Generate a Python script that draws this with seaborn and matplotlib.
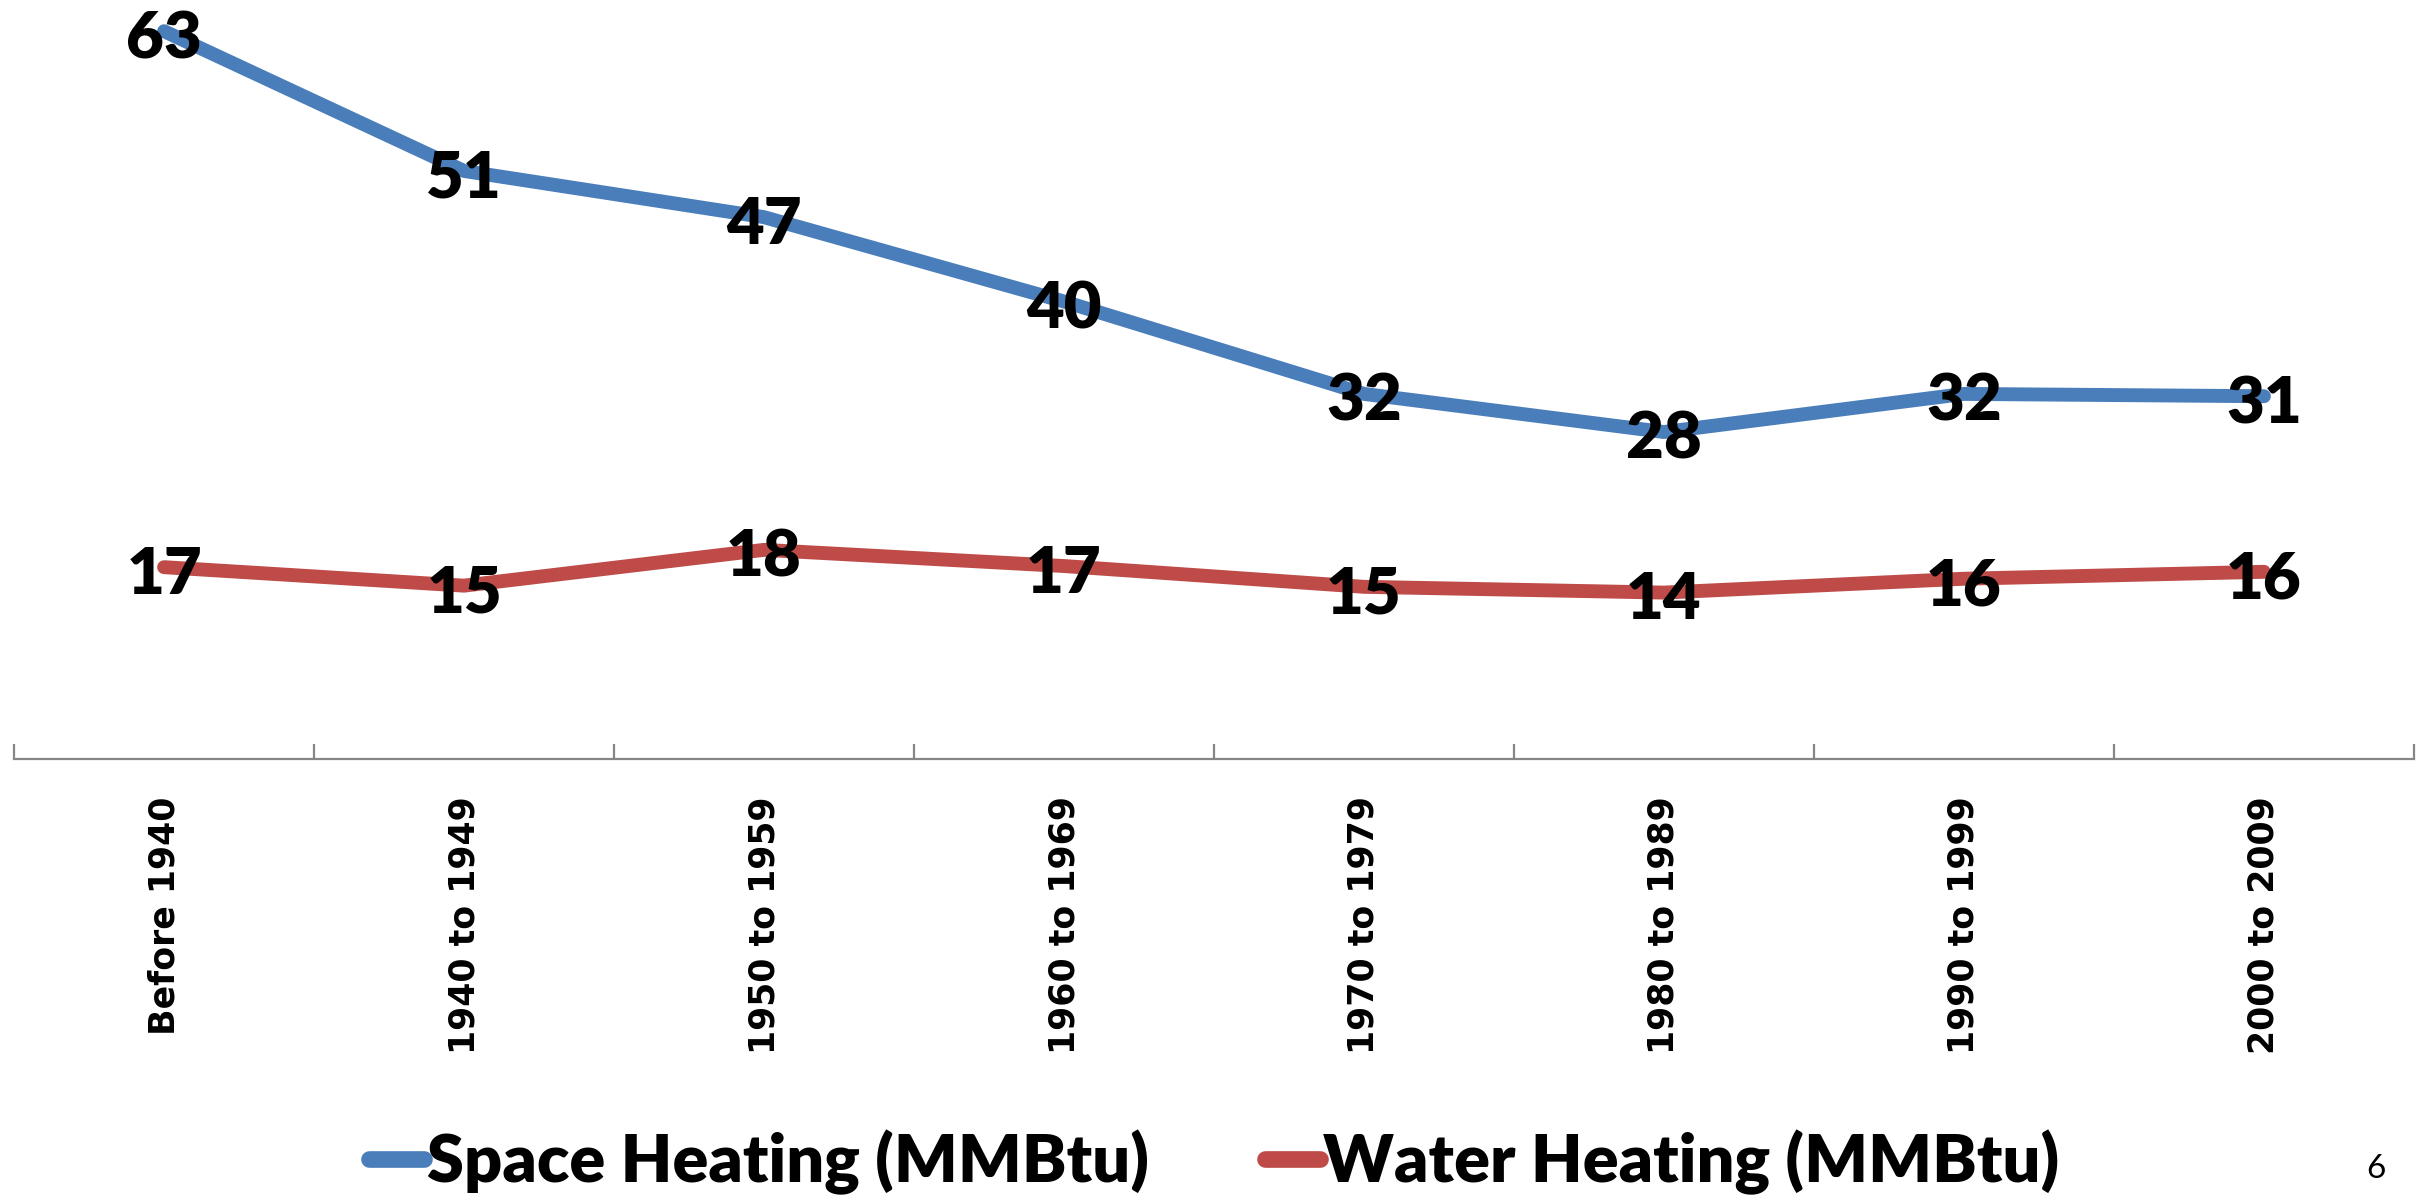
import matplotlib
matplotlib.use("Agg")
import matplotlib.pyplot as plt
import pandas as pd
import seaborn as sns

categories = ["Before 1940", "1940 to 1949", "1950 to 1959", "1960 to 1969",
              "1970 to 1979", "1980 to 1989", "1990 to 1999", "2000 to 2009"]
space_heating = [63.0, 50.9, 46.9, 39.6, 31.6, 28.3, 31.6, 31.4]
water_heating = [16.6, 15.0, 18.1, 16.7, 14.9, 14.4, 15.6, 16.2]
series_names = ["Space Heating (MMBtu)", "Water Heating (MMBtu)"]
colors = ["#4A7EBB", "#BE4B48"]
page_number = "6"

df = pd.DataFrame({
    "Vintage": categories * 2,
    "Value": space_heating + water_heating,
    "Series": [series_names[0]] * len(categories) + [series_names[1]] * len(categories),
})

sns.set_theme(style="white")
plt.rcParams["font.family"] = ["Lato", "DejaVu Sans"]
plt.rcParams["text.color"] = "black"

fig = plt.figure(figsize=(24.28, 11.95), dpi=100)
ax = fig.add_axes([0.0058, 0.3649, 0.9884, 0.6351])

sns.lineplot(data=df, x="Vintage", y="Value", hue="Series", palette=colors,
             linewidth=10, sort=False, ax=ax, solid_capstyle="round")

# data labels centred on the points, as in the original sheet
for name, values in zip(series_names, [space_heating, water_heating]):
    for i, v in enumerate(values):
        ax.annotate(f"{v:.0f}", (i, v), xytext=(0, -6), textcoords="offset points",
                    ha="center", va="center", fontsize=47, fontweight="heavy",
                    color="black", zorder=5)

ax.set_xlim(-0.5, len(categories) - 0.5)
ax.set_ylim(0, 65.7)
ax.set_xlabel("")
ax.set_ylabel("")
ax.set_yticks([])

for side in ["top", "left", "right"]:
    ax.spines[side].set_visible(False)
ax.spines["bottom"].set_color("#868686")
ax.spines["bottom"].set_linewidth(1.6)

ax.set_xticks(range(len(categories)))
ax.set_xticklabels(categories, rotation=90, fontsize=25, fontweight="bold",
                   family="DejaVu Sans", va="top", ha="center")
ax.tick_params(axis="x", which="major", length=0, pad=27, labelcolor="black")
ax.set_xticks([i - 0.5 for i in range(len(categories) + 1)], minor=True)
ax.tick_params(axis="x", which="minor", bottom=True, direction="in", length=11,
               width=1.6, color="#868686")

handles, labels = ax.get_legend_handles_labels()
ax.get_legend().remove()
leg = fig.legend(handles, labels, loc="center", bbox_to_anchor=(0.5, 0.027),
                 ncol=2, frameon=False, fontsize=48, handlelength=0.82,
                 handletextpad=0.04, columnspacing=1.75)
for t in leg.get_texts():
    t.set_fontweight("heavy")
    t.set_color("black")
for h in leg.get_lines():
    h.set_linewidth(12)
    h.set_solid_capstyle("round")

fig.text(0.9786, 0.022, page_number, ha="center", va="center", fontsize=24,
         color="black")

fig.savefig("out.png", dpi=100)
